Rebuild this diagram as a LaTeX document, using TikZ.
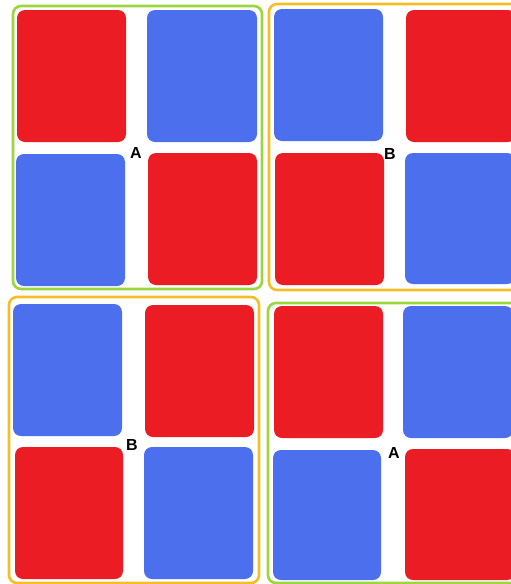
\documentclass[tikz,border=0pt]{standalone}
\usepackage{fontspec}
\setmainfont{Liberation Sans}
\definecolor{cred}{RGB}{236,28,36}
\definecolor{cblue}{RGB}{76,111,238}
\definecolor{cgreen}{RGB}{154,214,60}
\definecolor{corange}{RGB}{245,190,40}
\tikzset{
  redbox/.style={fill=cred, rounded corners=8pt},
  bluebox/.style={fill=cblue, rounded corners=8pt},
  greenframe/.style={draw=cgreen, line width=2.6pt, rounded corners=8pt},
  orangeframe/.style={draw=corange, line width=2.6pt, rounded corners=8pt},
  lbl/.style={font=\bfseries\fontsize{16}{16}\selectfont, inner sep=0pt}
}
\begin{document}
\begin{tikzpicture}[x=1pt,y=-1pt]
\useasboundingbox (0,0) rectangle (511,584);
\clip (0,0) rectangle (511,584);
\fill[white] (0,0) rectangle (511,584);
% panel 1 (A, green)
\fill[redbox] (17,10) rectangle (126,142);
\fill[bluebox] (147,10) rectangle (257,142);
\fill[bluebox] (16,154) rectangle (125,286);
\fill[redbox] (148,153) rectangle (257,285);
\draw[greenframe] (13,6) rectangle (262,289);
\node[lbl] (a1) at (136,153) {A};
% panel 2 (B, orange)
\fill[bluebox] (274,9) rectangle (383,141);
\fill[redbox] (406,10) rectangle (516,142);
\fill[redbox] (275,153) rectangle (384,285);
\fill[bluebox] (405,153) rectangle (515,284);
\draw[orangeframe] (269,4) rectangle (522,290);
\node[lbl] (b1) at (390,154) {B};
% panel 3 (B, orange)
\fill[bluebox] (13,304) rectangle (122,436);
\fill[redbox] (145,305) rectangle (254,437);
\fill[redbox] (15,447) rectangle (123,579);
\fill[bluebox] (144,447) rectangle (253,579);
\draw[orangeframe] (9,297) rectangle (259,583);
\node[lbl] (b2) at (132,445) {B};
% panel 4 (A, green)
\fill[redbox] (274,306) rectangle (383,438);
\fill[bluebox] (403,306) rectangle (513,438);
\fill[bluebox] (273,450) rectangle (381,580);
\fill[redbox] (405,449) rectangle (515,580);
\draw[greenframe] (268,303) rectangle (522,583);
\node[lbl] (a2) at (394,453) {A};
\end{tikzpicture}
\end{document}
